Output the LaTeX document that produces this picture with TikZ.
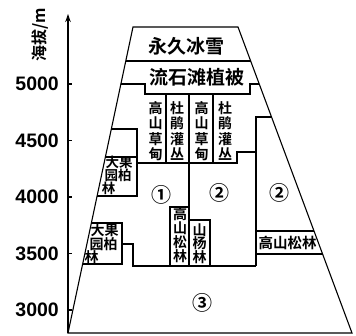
\documentclass[tikz,border=0pt]{standalone}
\usepackage{fontspec}
\newfontfamily\cjk{Noto Sans CJK SC}[BoldFont={Noto Sans CJK SC Bold}]
\newfontfamily\numf{Liberation Sans}
\usetikzlibrary{arrows.meta}
\tikzset{
  ln/.style={line width=1.1pt, line join=miter},
  big/.style={font=\cjk\bfseries\fontsize{19}{21}\selectfont, inner sep=0pt},
  col/.style={font=\cjk\bfseries\fontsize{14}{15.5}\selectfont, align=center, inner sep=0pt},
  sm/.style={font=\cjk\bfseries\fontsize{13.5}{14}\selectfont, inner sep=0pt},
  lo/.style={font=\cjk\bfseries\fontsize{14}{14}\selectfont, inner sep=0pt},
  circnum/.style={font=\cjk\bfseries\fontsize{20}{20}\selectfont, inner sep=0pt},
  ticklab/.style={font=\numf\bfseries\fontsize{19.5}{20}\selectfont, anchor=east, inner sep=0pt},
  axtitle/.style={font=\cjk\bfseries\fontsize{16}{16}\selectfont, inner sep=0pt, rotate=90}
}
\begin{document}
\begin{tikzpicture}[x=1pt,y=-1pt]
\useasboundingbox (0,0) rectangle (356,336);
% corners
\coordinate (BL) at (68,333);
\coordinate (TL) at (133,27);
\coordinate (TR) at (238,27);
\coordinate (BR) at (352,333);
\coordinate (axtop) at (68,14);
% axis
\draw[ln,-{Stealth[length=8pt,width=5.5pt]}] (BL) -- (axtop);
\foreach \yy/\lab in {84/5000,140.5/4500,197/4000,253.5/3500,310/3000}{
  \draw[ln] (68,\yy) -- (72,\yy);
  \node[ticklab] (t\lab) at (59,\yy) {\lab};
}
\node[axtitle] (title) at (40,35) {海拔/m};
% trapezoid
\draw[ln] (BL) -- (TL) -- (TR) -- (BR) -- cycle;
% belts
\draw[ln] (125.8,61) -- (250.7,61);
\draw[ln] (120.9,84) -- (145,84) -- (145,94) -- (250,94) -- (250,84) -- (259.2,84);
\draw[ln] (166,94) -- (166,163);
\draw[ln] (213,94) -- (213,163);
\draw[ln] (189,94) -- (189,266);
\draw[ln] (137,163) -- (237,163) -- (237,152) -- (256,152);
\draw[ln] (271.5,117) -- (256,117) -- (256,266);
% upper left box
\draw[ln] (111.3,129) -- (137,129) -- (137,196) -- (97.1,196);
\draw[ln] (105.4,157) -- (137,157);
% lower left box
\draw[ln] (91.4,223) -- (122,223) -- (122,264) -- (82.7,264);
\draw[ln] (122,244) -- (133,244) -- (133,266) -- (256,266);
% middle boxes
\draw[ln] (170,266) -- (170,207) -- (189,207);
\draw[ln] (189,220) -- (210,220) -- (210,266);
% right box
\draw[ln] (256,231) -- (314,231);
\draw[ln] (256,254) -- (322.6,254);
% labels
\node[big] (ice) at (186.5,46) {永久冰雪};
\node[big] (scree) at (196.5,77) {流石滩植被};
\node[col] (m1) at (155.5,131) {高\\山\\草\\甸};
\node[col] (s1) at (177,131) {杜\\鹃\\灌\\丛};
\node[col] (m2) at (201.5,131) {高\\山\\草\\甸};
\node[col] (s2) at (225,131) {杜\\鹃\\灌\\丛};
\node[sm] (ua) at (119,162) {大果};
\node[sm] (ub) at (118,175) {园柏};
\node[sm] (uc) at (108.5,188) {林};
\node[lo] (la) at (104.5,230) {大果};
\node[lo] (lb) at (103.5,244) {园柏};
\node[lo] (lc) at (91.5,257) {林};
\node[col, font=\cjk\bfseries\fontsize{14}{14}\selectfont] (pine) at (180,235) {高\\山\\松\\林};
\node[col, font=\cjk\bfseries\fontsize{14}{13.5}\selectfont] (aspen) at (199.5,243.5) {山\\杨\\林};
\node[lo, font=\cjk\bfseries\fontsize{14.5}{14.5}\selectfont] (pineh) at (287.5,243) {高山松林};
\node[circnum] (c1) at (161,195) {①};
\node[circnum] (c2) at (219,193) {②};
\node[circnum] (c2b) at (279,193) {②};
\node[circnum] (c3) at (202,303) {③};
\end{tikzpicture}
\end{document}
